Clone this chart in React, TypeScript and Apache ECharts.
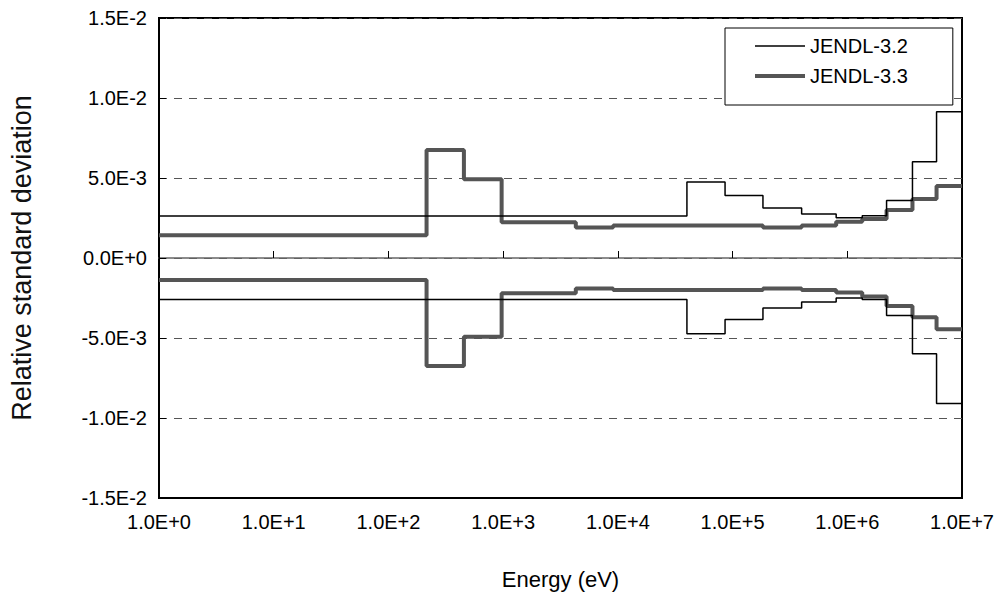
import React, { useEffect, useRef } from "react";
import * as echarts from "echarts";

// Group boundaries (eV)
const bounds33 = [1, 215, 455, 970, 4300, 9100, 40000, 86000, 184000, 400000, 800000, 1.35e6, 2.2e6, 3.7e6, 6.0e6, 1e7];
const upper33 = [1.42e-3, 6.75e-3, 4.92e-3, 2.24e-3, 1.9e-3, 2.03e-3, 2.03e-3, 2.03e-3, 1.9e-3, 2.03e-3, 2.26e-3, 2.44e-3, 3.0e-3, 3.68e-3, 4.5e-3];
const lower33 = [-1.38e-3, -6.75e-3, -4.92e-3, -2.2e-3, -1.9e-3, -2.0e-3, -2.0e-3, -2.0e-3, -1.9e-3, -2.0e-3, -2.15e-3, -2.4e-3, -3.0e-3, -3.7e-3, -4.46e-3];

const bounds32 = [1, 40000, 86000, 184000, 400000, 800000, 1.35e6, 2.2e6, 3.7e6, 6.0e6, 1e7];
const upper32 = [2.63e-3, 4.75e-3, 3.9e-3, 3.12e-3, 2.75e-3, 2.52e-3, 2.64e-3, 3.6e-3, 6.02e-3, 9.14e-3];
const lower32 = [-2.6e-3, -4.73e-3, -3.85e-3, -3.12e-3, -2.75e-3, -2.5e-3, -2.6e-3, -3.6e-3, -5.98e-3, -9.1e-3];

const seriesNames = ["JENDL-3.2", "JENDL-3.3"];
const xTickExponents = [0, 1, 2, 3, 4, 5, 6, 7];
const yTicks = [-0.015, -0.01, -0.005, 0, 0.005, 0.01, 0.015];

const FONT = '"Liberation Sans", Arial, sans-serif';

function stepData(bounds: number[], vals: number[]) {
  const pts: [number, number][] = vals.map((v, i) => [bounds[i], v]);
  pts.push([bounds[bounds.length - 1], vals[vals.length - 1]]);
  return pts;
}

function fmtY(v: number) {
  if (Math.abs(v) < 1e-12) return "0.0E+0";
  return v.toExponential(1).toUpperCase();
}

export default function App() {
  const ref = useRef<HTMLDivElement>(null);
  useEffect(() => {
    if (!ref.current) return;
    const chart = echarts.init(ref.current, undefined, { renderer: "svg" });
    const thin = { color: "#000", width: 1.5 };
    const thick = { color: "#555", width: 4 };
    chart.setOption({
      animation: false,
      backgroundColor: "#fff",
      grid: {
        left: 158,
        right: 42,
        top: 18,
        bottom: 99,
        show: true,
        borderColor: "#000",
        borderWidth: 2,
        backgroundColor: "transparent",
      },
      legend: {
        orient: "vertical",
        left: 725,
        top: 28,
        padding: [8, 45, 19, 28],
        itemWidth: 50,
        itemHeight: 20,
        itemGap: 10,
        backgroundColor: "#fff",
        borderColor: "#000",
        borderWidth: 1,
        data: [
          { name: seriesNames[0], lineStyle: { width: thin.width, color: thin.color } },
          { name: seriesNames[1], lineStyle: { width: thick.width, color: thick.color } },
        ],
        itemStyle: { opacity: 0 },
        lineStyle: { width: "inherit" },
        textStyle: { fontFamily: FONT, fontSize: 20, color: "#000" },
        z: 10,
      },
      xAxis: [
        {
          type: "log",
          logBase: 10,
          min: 1,
          max: 1e7,
          position: "bottom",
          name: "Energy (eV)",
          nameLocation: "middle",
          nameGap: 70,
          nameTextStyle: { fontFamily: FONT, fontSize: 22, color: "#000" },
          axisLine: { onZero: false, show: true, lineStyle: { color: "#000", width: 2 } },
          axisTick: { show: false },
          splitLine: { show: false },
          axisLabel: {
            margin: 14,
            fontFamily: FONT,
            fontSize: 20,
            color: "#000",
            formatter: (v: number) => {
              const e = Math.round(Math.log10(v));
              return xTickExponents.includes(e) ? "1.0E+" + e : "";
            },
          },
        },
        {
          type: "log",
          logBase: 10,
          min: 1,
          max: 1e7,
          position: "bottom",
          axisLine: { onZero: true, show: true, lineStyle: { color: "#666", width: 1.5 } },
          axisTick: { show: true, inside: true, length: 7, lineStyle: { color: "#000", width: 1 } },
          axisLabel: { show: false },
          splitLine: { show: false },
        },
      ],
      yAxis: {
        type: "value",
        min: yTicks[0],
        max: yTicks[yTicks.length - 1],
        interval: 0.005,
        name: "Relative standard deviation",
        nameLocation: "middle",
        nameGap: 124,
        nameTextStyle: { fontFamily: FONT, fontSize: 27, color: "#111" },
        axisLine: { onZero: false, show: true, lineStyle: { color: "#000", width: 2 } },
        axisTick: { show: true, inside: true, length: 7, lineStyle: { color: "#000" } },
        axisLabel: {
          margin: 12,
          fontFamily: FONT,
          fontSize: 20,
          color: "#000",
          formatter: fmtY,
        },
        splitLine: { show: true, lineStyle: { type: [8, 7], color: "#555", width: 1 } },
      },
      series: [
        { name: seriesNames[0], type: "line", step: "end", data: stepData(bounds32, upper32), showSymbol: false, symbol: "none", lineStyle: thin, itemStyle: { color: thin.color }, z: 3 },
        { name: seriesNames[0], type: "line", step: "end", data: stepData(bounds32, lower32), showSymbol: false, symbol: "none", lineStyle: thin, itemStyle: { color: thin.color }, z: 3 },
        { name: seriesNames[1], type: "line", step: "end", data: stepData(bounds33, upper33), showSymbol: false, symbol: "none", lineStyle: thick, itemStyle: { color: thick.color }, z: 2 },
        { name: seriesNames[1], type: "line", step: "end", data: stepData(bounds33, lower33), showSymbol: false, symbol: "none", lineStyle: thick, itemStyle: { color: thick.color }, z: 2 },
      ],
    });
    return () => chart.dispose();
  }, []);
  return <div ref={ref} style={{ width: 1004, height: 597, position: "absolute", left: 0, top: 0 }} />;
}
